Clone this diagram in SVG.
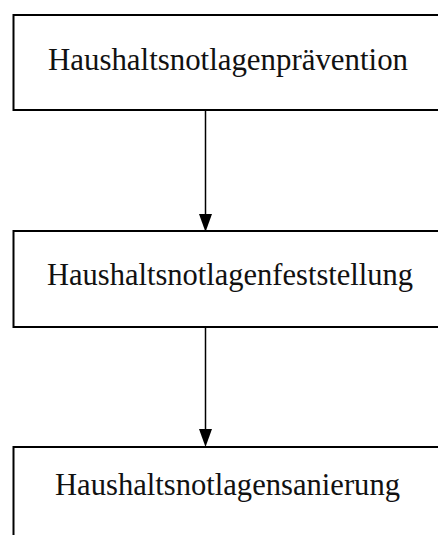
<svg xmlns="http://www.w3.org/2000/svg" width="438" height="535" viewBox="0 0 438 535">
<defs>
<style>
.box{fill:#fff;stroke:#000;stroke-width:2}
.lbl{font-family:"Liberation Serif","DejaVu Serif",serif;font-size:31px;fill:#111}
.edge{stroke:#000;stroke-width:1.5;fill:none}
</style>
<marker id="ah" viewBox="0 0 13 19" refX="13" refY="6.5" markerWidth="13" markerHeight="19" markerUnits="userSpaceOnUse" orient="auto">
<path d="M0,0 L19,6.5 L0,13 Z" fill="#000"/>
</marker>
</defs>
<rect width="438" height="535" fill="#fff"/>
<g id="node1">
<rect class="box" x="13.5" y="15" width="430" height="95"/>
<text class="lbl" x="48" y="70" textLength="360" lengthAdjust="spacingAndGlyphs">Haushaltsnotlagenprävention</text>
</g>
<g id="node2">
<rect class="box" x="13.5" y="231" width="430" height="96"/>
<text class="lbl" x="47" y="285" textLength="366" lengthAdjust="spacingAndGlyphs">Haushaltsnotlagenfeststellung</text>
</g>
<g id="node3">
<rect class="box" x="13.5" y="447" width="430" height="100"/>
<text class="lbl" x="55" y="495" textLength="345" lengthAdjust="spacingAndGlyphs">Haushaltsnotlagensanierung</text>
</g>
<g id="connectors">
<line class="edge" x1="205.5" y1="111" x2="205.5" y2="214"/>
<path d="M199,214 L212,214 L205.5,232 Z" fill="#000"/>
<line class="edge" x1="205.5" y1="328" x2="205.5" y2="429"/>
<path d="M199,429 L212,429 L205.5,447 Z" fill="#000"/>
</g>
</svg>
